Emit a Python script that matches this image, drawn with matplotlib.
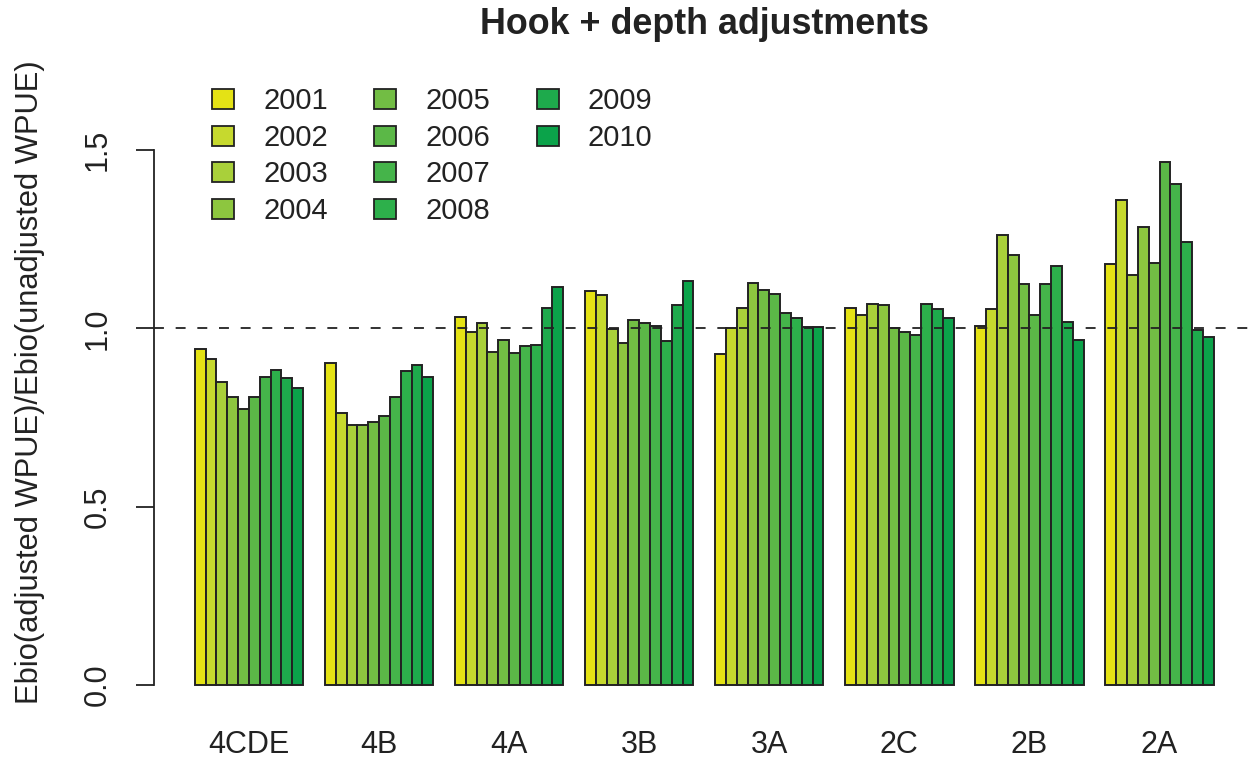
import matplotlib
matplotlib.use("Agg")
import matplotlib.pyplot as plt
from matplotlib.patches import Rectangle

plt.rcParams['font.family'] = ['Liberation Sans', 'DejaVu Sans']

regions = ["4CDE", "4B", "4A", "3B", "3A", "2C", "2B", "2A"]
years = [str(y) for y in range(2001, 2011)]

# ratio of Ebio with/without hook + depth adjustment, one list per region (2001..2010)
r_4CDE = [0.942, 0.913, 0.849, 0.809, 0.774, 0.808, 0.864, 0.884, 0.861, 0.834]
r_4B   = [0.902, 0.763, 0.728, 0.728, 0.737, 0.754, 0.808, 0.881, 0.898, 0.863]
r_4A   = [1.032, 0.990, 1.015, 0.933, 0.967, 0.931, 0.952, 0.953, 1.057, 1.115]
r_3B   = [1.105, 1.095, 0.998, 0.959, 1.024, 1.015, 1.008, 0.964, 1.065, 1.132]
r_3A   = [0.928, 1.002, 1.058, 1.128, 1.107, 1.097, 1.044, 1.028, 1.005, 1.004]
r_2C   = [1.058, 1.038, 1.069, 1.067, 1.001, 0.991, 0.981, 1.069, 1.054, 1.030]
r_2B   = [1.006, 1.054, 1.262, 1.207, 1.126, 1.037, 1.125, 1.176, 1.019, 0.969]
r_2A   = [1.180, 1.360, 1.149, 1.285, 1.185, 1.466, 1.406, 1.242, 0.996, 0.975]
ratios = [r_4CDE, r_4B, r_4A, r_3B, r_3A, r_2C, r_2B, r_2A]

colors = ["#E4E215", "#C6D92E", "#A9D03A", "#8DC63F", "#72BD44",
          "#5BB847", "#45B44A", "#2DB04B", "#1EAA4C", "#0BA34A"]

W, H = 1249, 759
fig = plt.figure(figsize=(W / 100, H / 100), dpi=100)
# plot region in pixels: x 154..1254.5, y 54.7..709.2
ax = fig.add_axes([154 / W, 1 - 709.2 / H, 1100.5 / W, (709.2 - 54.7) / H])

gap = 2  # bar widths between region groups
for g, vals in enumerate(ratios):
    for j, v in enumerate(vals):
        x = gap + g * (len(years) + gap) + j
        ax.bar(x, v, width=1, align='edge', color=colors[j],
               edgecolor='#222222', linewidth=1.4)

ax.axhline(1.0, color='#222222', linewidth=1.3, linestyle=(0, (5.5, 6.5)))

ax.set_xlim(-1.76, 99.76)
ax.set_ylim(-0.068, 1.768)

centers = [gap + g * (len(years) + gap) + len(years) / 2 for g in range(len(regions))]
ax.set_xticks(centers)
ax.set_xticklabels(regions, fontsize=22, color='#222222')
ax.tick_params(axis='x', length=0, pad=15)

ax.set_yticks([0, 0.5, 1.0, 1.5])
ax.set_yticklabels(["0.0", "0.5", "1.0", "1.5"], fontsize=22, color='#222222',
                   rotation=90, va='center')
ax.tick_params(axis='y', length=13, width=1.3, pad=17, color='#222222')

for s in ['top', 'right', 'bottom']:
    ax.spines[s].set_visible(False)
ax.spines['left'].set_bounds(0, 1.5)
ax.spines['left'].set_linewidth(1.3)
ax.spines['left'].set_color('#222222')

ax.set_ylabel("Ebio(adjusted WPUE)/Ebio(unadjusted WPUE)", fontsize=22.2, color='#222222')
ax.yaxis.set_label_coords((45 - 154) / 1100.5, 0.5)

fig.text(0.5 * (154 + 1254.5) / W, 1 - 24 / H, "Hook + depth adjustments",
         ha='center', va='center', fontsize=25.8, fontweight='bold', color='#222222')

# legend laid out 4 rows deep; two blank slots fill out the last column
handles = [Rectangle((0, 0), 1, 1, facecolor=c, edgecolor='#222222', linewidth=1.3)
           for c in colors]
labels = list(years)
handles += [Rectangle((0, 0), 1, 1, visible=False)] * 2
labels += ["", ""]
ax.legend(handles, labels, ncol=3, loc='upper left', frameon=False,
          bbox_to_anchor=(212 / W, 1 - 87 / H), bbox_transform=fig.transFigure,
          fontsize=21, borderpad=0, borderaxespad=0, handlelength=0.75,
          handleheight=0.68, handletextpad=1.0, columnspacing=1.6,
          labelspacing=0.3, labelcolor='#222222')

fig.savefig("out.png", dpi=100)
